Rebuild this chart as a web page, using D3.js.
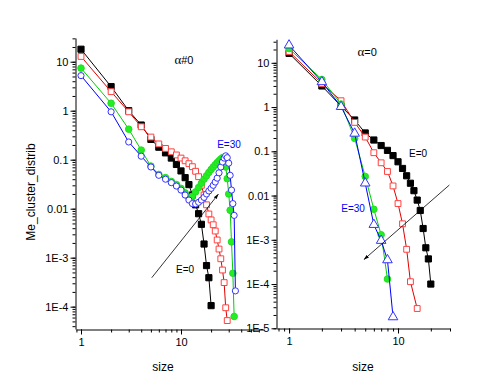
<!DOCTYPE html>
<html>
<head>
<meta charset="utf-8">
<script src="https://cdn.jsdelivr.net/npm/d3@7"></script>
<style>
  body { margin: 0; background: #fff; }
  svg { display: block; font-family: "Liberation Sans", Arial, sans-serif; }
</style>
</head>
<body>
<div id="chart"></div>
<script>
// --- DATA ---

// left panel, alpha#0
const leftBlackSize = [1, 2, 3, 4, 5, 6, 7, 8, 9, 10, 11, 12, 13, 14, 15, 16, 17, 18, 19, 20];
const leftBlackVal  = [18, 3.1, 1.0, 0.51, 0.26, 0.18, 0.138, 0.108, 0.08, 0.059, 0.043, 0.031, 0.019, 0.012, 0.0079, 0.0048, 0.0019, 6.9e-4, 3.9e-4, 1.05e-4];

const leftRedSize = [1, 2, 3, 4, 5, 6, 7, 8, 9, 10, 11, 12, 13, 14, 15, 16, 17, 18, 19, 20, 21, 22, 23, 24, 25, 26, 27, 28, 29];
const leftRedVal  = [12.8, 2.45, 0.95, 0.47, 0.29, 0.21, 0.17, 0.145, 0.125, 0.108, 0.095, 0.083, 0.072, 0.058, 0.045, 0.03, 0.019, 0.012, 0.0078, 0.0059, 0.0047, 0.0035, 0.0023, 0.0015, 9.5e-4, 5.6e-4, 3.1e-4, 9.5e-5, 5.2e-5];

const leftGreenSize = [1, 2, 3, 4, 5, 6, 7, 8, 9, 10, 11, 12, 13, 14, 15, 16, 17, 18, 19, 20, 21, 22, 23, 24, 25, 26, 27, 28, 29, 30, 31, 32, 33, 34];
const leftGreenVal  = [7.4, 1.42, 0.42, 0.157, 0.074, 0.05, 0.043, 0.036, 0.031, 0.026, 0.021, 0.017, 0.018, 0.022, 0.027, 0.033, 0.04, 0.047, 0.055, 0.063, 0.071, 0.079, 0.087, 0.095, 0.103, 0.11, 0.095, 0.071, 0.041, 0.02, 0.0093, 0.0021, 4.8e-4, 6.3e-5];

const leftBlueSize = [1, 2, 3, 4, 5, 6, 7, 8, 9, 10, 11, 12, 13, 14, 15, 16, 17, 18, 19, 20, 21, 22, 23, 24, 25, 26, 27, 28, 29, 30, 31, 32, 33, 34, 35];
const leftBlueVal  = [5.2, 0.95, 0.23, 0.118, 0.071, 0.048, 0.04, 0.034, 0.029, 0.024, 0.019, 0.015, 0.0127, 0.0125, 0.0135, 0.015, 0.017, 0.02, 0.023, 0.026, 0.03, 0.035, 0.042, 0.054, 0.071, 0.09, 0.108, 0.12, 0.11, 0.085, 0.048, 0.024, 0.0127, 0.0073, 2.1e-4];

// right panel, alpha=0
const rightBlackSize = [1, 2, 3, 4, 5, 6, 7, 8, 9, 10, 11, 12, 13, 14, 15, 16, 17, 18, 19, 20];
const rightBlackVal  = [16.3, 3.0, 1.05, 0.51, 0.26, 0.18, 0.135, 0.105, 0.08, 0.058, 0.041, 0.028, 0.019, 0.0129, 0.0079, 0.0046, 0.0018, 6.6e-4, 3.7e-4, 1.0e-4];

const rightRedSize = [1, 2, 3, 4, 5, 6, 7, 8, 9, 10, 11, 12, 13, 15];
const rightRedVal  = [18, 3.4, 1.39, 0.45, 0.21, 0.093, 0.055, 0.035, 0.0165, 0.0066, 0.0023, 6.1e-4, 1.13e-4, 2.8e-5];

const rightGreenSize = [1, 2, 3, 4, 5, 6, 7, 8];
const rightGreenVal  = [21, 4.2, 1.17, 0.196, 0.027, 0.0049, 0.0013, 1.3e-4];

const rightBlueSize = [1, 2, 3, 4, 5, 6, 7, 8, 9];
const rightBlueVal  = [25, 3.7, 1.02, 0.254, 0.019, 0.0022, 9.6e-4, 3.5e-4, 1.8e-5];

// tick labels
const xMajorTicks = [1, 10];
const xMajorLabels = ["1", "10"];
const leftYTicks = [1e-4, 1e-3, 0.01, 0.1, 1, 10];
const leftYLabels = ["1E-4", "1E-3", "0.01", "0.1", "1", "10"];
const rightYTicks = [1e-5, 1e-4, 1e-3, 0.01, 0.1, 1, 10];
const rightYLabels = ["1E-5", "1E-4", "1E-3", "0.01", "0.1", "1", "10"];

// --- SVG SETUP ---
const width = 500;
const height = 386;
const svg = d3.select("#chart").append("svg")
  .attr("width", width)
  .attr("height", height);

svg.append("defs").append("marker")
  .attr("id", "arrow")
  .attr("viewBox", "0 0 10 10")
  .attr("refX", 9).attr("refY", 5)
  .attr("markerWidth", 7).attr("markerHeight", 7)
  .attr("orient", "auto")
  .append("path")
  .attr("d", "M0,2 L10,5 L0,8 Z")
  .attr("fill", "#000");

const zip = (a, b) => a.map((v, i) => [v, b[i]]);

// series styles, drawn in this order
const STYLES = {
  black: { line: "#000", stroke: "#000", fill: "#000", shape: d3.symbolSquare, size: 38 },
  red:   { line: "#e00000", stroke: "#ff4040", fill: "#fff", shape: d3.symbolSquare, size: 34 },
  green: { line: "#00d000", stroke: "#22dd22", fill: "#22ee22", shape: d3.symbolCircle, size: 34 },
  blue:  { line: "#0000ff", stroke: "#3333ff", fill: "#fff", shape: d3.symbolCircle, size: 30 }
};

const panels = [
  {
    x: d3.scaleLog().domain([0.89, 68]).range([81 + 100 * Math.log10(0.89), 81 + 100 * Math.log10(68)]),
    y: d3.scaleLog().domain([3.5e-5, 30.5]).range([329, 38]),
    x0: 75.5, y0: 329.5, xLabelAt: 163,
    yTicks: leftYTicks, yLabels: leftYLabels,
    series: [
      { key: "black", data: zip(leftBlackSize, leftBlackVal) },
      { key: "red", data: zip(leftRedSize, leftRedVal) },
      { key: "green", data: zip(leftGreenSize, leftGreenVal) },
      { key: "blue", data: zip(leftBlueSize, leftBlueVal) }
    ],
    title: { text: "#0", at: [10.7, 9] },
    notes: [
      { text: "E=0", at: [11, 4.9e-4], color: "#000" },
      { text: "E=30", at: [30.2, 0.172], color: "#0000ff" }
    ],
    arrow: { from: [5.1, 3.9e-4], to: [23.6, 0.0197] }
  },
  {
    x: d3.scaleLog().domain([0.77, 30]).range([276.7, 450]),
    y: d3.scaleLog().domain([1e-5, 34]).range([328.3, 39.3]),
    x0: 276.5, y0: 328.5, xLabelAt: 363,
    yTicks: rightYTicks, yLabels: rightYLabels,
    series: [
      { key: "black", data: zip(rightBlackSize, rightBlackVal) },
      { key: "red", data: zip(rightRedSize, rightRedVal) },
      { key: "green", data: zip(rightGreenSize, rightGreenVal) },
      { key: "blue", data: zip(rightBlueSize, rightBlueVal), triangle: true }
    ],
    title: { text: "=0", at: [5.2, 14.2] },
    notes: [
      { text: "E=0", at: [15.3, 0.074], color: "#000" },
      { text: "E=30", at: [3.87, 0.0042], color: "#0000ff" }
    ],
    arrow: { from: [29.6, 0.0173], to: [4.88, 3.6e-4] }
  }
];

// --- DRAW ---
panels.forEach(p => {
  const g = svg.append("g");
  const x = p.x, y = p.y;

  // y axis: minor then major
  g.append("g")
    .attr("transform", `translate(${p.x0},0)`)
    .call(d3.axisLeft(y).tickValues(y.ticks()).tickSize(3).tickSizeOuter(0).tickFormat(""))
    .call(a => a.select(".domain").remove());
  g.append("g")
    .attr("transform", `translate(${p.x0},0)`)
    .call(d3.axisLeft(y).tickValues(p.yTicks).tickSize(5).tickSizeOuter(0).tickPadding(2)
      .tickFormat((d, i) => p.yLabels[i]))
    .call(a => a.selectAll("text").attr("font-size", 11).attr("fill", "#000"));

  // x axis
  g.append("g")
    .attr("transform", `translate(0,${p.y0})`)
    .call(d3.axisBottom(x).tickValues(x.ticks()).tickSize(3).tickSizeOuter(0).tickFormat(""))
    .call(a => a.select(".domain").remove());
  g.append("g")
    .attr("transform", `translate(0,${p.y0})`)
    .call(d3.axisBottom(x).tickValues(xMajorTicks).tickSize(5).tickSizeOuter(0).tickPadding(4)
      .tickFormat((d, i) => xMajorLabels[i]))
    .call(a => a.selectAll("text").attr("font-size", 11).attr("fill", "#000"));

  g.append("text")
    .attr("x", p.xLabelAt)
    .attr("y", 371)
    .attr("text-anchor", "middle")
    .attr("font-size", 12)
    .text("size");

  const line = d3.line().x(d => x(d[0])).y(d => y(d[1]));

  p.series.forEach(s => {
    const st = STYLES[s.key];
    g.append("path")
      .datum(s.data)
      .attr("d", line)
      .attr("fill", "none")
      .attr("stroke", st.line)
      .attr("stroke-width", 1);
    g.selectAll(null)
      .data(s.data)
      .join("path")
      .attr("transform", d => `translate(${x(d[0])},${y(d[1])})`)
      .attr("d", d3.symbol().type(s.triangle ? d3.symbolTriangle : st.shape).size(s.triangle ? 40 : st.size))
      .attr("fill", st.fill)
      .attr("stroke", st.stroke)
      .attr("stroke-width", 1);
  });

  // arrow annotation
  g.append("line")
    .attr("x1", x(p.arrow.from[0])).attr("y1", y(p.arrow.from[1]))
    .attr("x2", x(p.arrow.to[0])).attr("y2", y(p.arrow.to[1]))
    .attr("stroke", "#000")
    .attr("stroke-width", 0.8)
    .attr("marker-end", "url(#arrow)");

  // title with greek alpha
  const t = g.append("text")
    .attr("x", x(p.title.at[0]))
    .attr("y", y(p.title.at[1]))
    .attr("text-anchor", "middle")
    .attr("font-size", 11);
  t.append("tspan").attr("font-family", "'Liberation Serif', 'Times New Roman', serif").attr("font-size", 13).text("α");
  t.append("tspan").text(p.title.text);

  p.notes.forEach(n => {
    g.append("text")
      .attr("x", x(n.at[0]))
      .attr("y", y(n.at[1]))
      .attr("text-anchor", "middle")
      .attr("font-size", 10)
      .attr("fill", n.color)
      .text(n.text);
  });
});

// y axis title
svg.append("text")
  .attr("transform", "translate(35,192) rotate(-90)")
  .attr("text-anchor", "middle")
  .attr("font-size", 12)
  .text("Me_cluster_distrib");
</script>
</body>
</html>
